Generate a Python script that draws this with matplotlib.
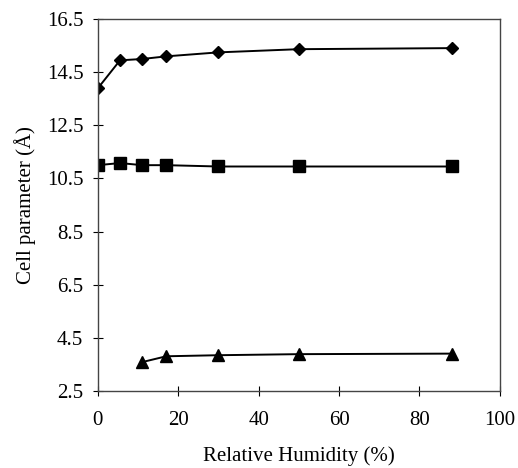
import matplotlib.pyplot as plt

plt.rcParams['font.family'] = ['Liberation Serif', 'DejaVu Serif']

# data
rh_a = [0, 5.5, 11, 17, 30, 50, 88]
cell_a = [13.9, 14.95, 15.0, 15.1, 15.25, 15.37, 15.41]

rh_b = [0, 5.5, 11, 17, 30, 50, 88]
cell_b = [11.0, 11.08, 11.0, 11.0, 10.95, 10.95, 10.95]

rh_c = [11, 17, 30, 50, 88]
cell_c = [3.58, 3.8, 3.84, 3.88, 3.9]

yticks = [2.5, 4.5, 6.5, 8.5, 10.5, 12.5, 14.5, 16.5]
xticks = [0, 20, 40, 60, 80, 100]

fig = plt.figure(figsize=(5.18, 4.68), dpi=100)
ax = fig.add_axes([0.189, 0.165, 0.776, 0.794])

ax.plot(rh_a, cell_a, color='black', linewidth=1.4, marker='D', markersize=6.5)
ax.plot(rh_b, cell_b, color='black', linewidth=1.4, marker='s', markersize=8)
ax.plot(rh_c, cell_c, color='black', linewidth=1.4, marker='^', markersize=8.5)

ax.set_xlim(0, 100)
ax.set_ylim(2.5, 16.5)
ax.set_xticks(xticks)
ax.set_yticks(yticks)
ax.set_yticklabels([f'{v:.1f}' for v in yticks])
ax.tick_params(direction='inout', length=7, width=0.8, labelsize=15)
ax.tick_params(axis='y', pad=7)
ax.tick_params(axis='x', pad=11)
for sp in ax.spines.values():
    sp.set_color('#444444')
    sp.set_linewidth(1.0)

ax.set_xlabel('Relative Humidity (%)', fontsize=15, labelpad=12)
ax.set_ylabel('Cell parameter (Å)', fontsize=15, labelpad=8)

fig.savefig('out.png', dpi=100)
